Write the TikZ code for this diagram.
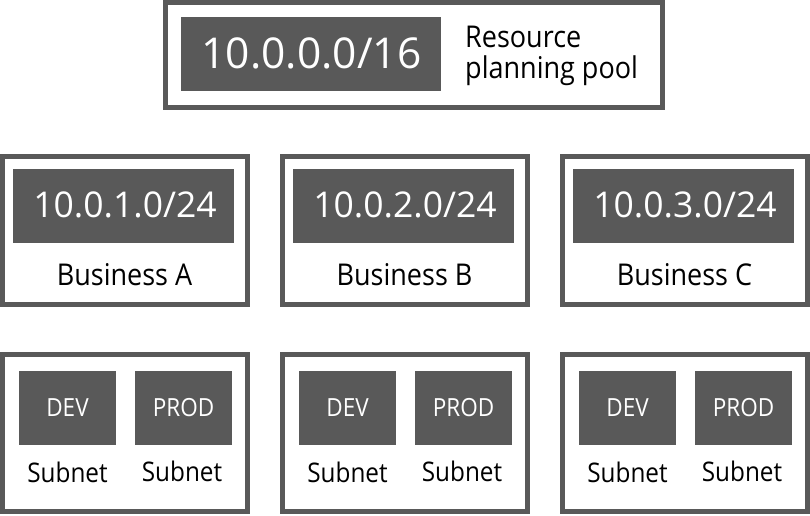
\documentclass[tikz,border=0pt]{standalone}
\usepackage{fontspec}
\setmainfont{Open Sans}[FakeStretch=0.9]
\newfontfamily\numfont{Open Sans}
\definecolor{dk}{HTML}{595959}
\tikzset{
  outerbox/.style={draw=dk, line width=5pt, fill=white, inner sep=0pt, outer sep=0pt},
  darkbox/.style={fill=dk, draw=none, inner sep=0pt, outer sep=0pt},
  bigip/.style={text=white, anchor=base, inner sep=0pt, font=\numfont\fontsize{42.5}{42.5}\selectfont},
  midip/.style={text=white, anchor=base, inner sep=0pt, font=\numfont\fontsize{35.5}{35.5}\selectfont},
  lbl/.style={text=black, anchor=base, inner sep=0pt, font=\fontsize{30}{30}\selectfont},
  envlbl/.style={text=white, anchor=base, inner sep=0pt, font=\fontsize{25}{25}\selectfont},
  sublbl/.style={text=black, anchor=base, inner sep=0pt, font=\fontsize{27}{27}\selectfont},
}
\begin{document}
\begin{tikzpicture}[x=1pt,y=-1pt]
\useasboundingbox (0,0) rectangle (810,515);
% top
\node[outerbox, minimum width=497.5pt, minimum height=105pt] (top) at (413.75,55) {};
\node[darkbox, minimum width=260pt, minimum height=74pt] (topip) at (311,54) {};
\node[bigip] (toptxt) at (311.5,68) {10.0.0.0/16};
\node[lbl, anchor=base west, font=\fontsize{30}{30}\selectfont] (res1) at (465,47.5) {Resource};
\node[lbl, anchor=base west, font=\fontsize{30}{30}\selectfont] (res2) at (465,78.5) {planning pool};
% middle and bottom
\foreach \cx/\n/\ip/\bus in {125/a/{10.0.1.0/24}/{Business A}, 405/b/{10.0.2.0/24}/{Business B}, 685/c/{10.0.3.0/24}/{Business C}}{
  \node[outerbox, minimum width=245.5pt, minimum height=148pt] (mid\n) at (\cx,230.5) {};
  \node[darkbox, minimum width=221pt, minimum height=74pt] (midip\n) at (\cx-1.5,206) {};
  \node[midip] (midtxt\n) at (\cx,217.3) {\ip};
  \node[lbl] (bus\n) at (\cx-0.5,285) {\bus};
  \node[outerbox, minimum width=245.5pt, minimum height=157pt] (bot\n) at (\cx,433) {};
  \node[darkbox, minimum width=97pt, minimum height=74pt] (dev\n) at (\cx-57.5,408) {};
  \node[darkbox, minimum width=97pt, minimum height=74pt] (prod\n) at (\cx+58.5,408) {};
  \node[envlbl] (devt\n) at (\cx-57.5,416) {DEV};
  \node[envlbl] (prodt\n) at (\cx+58.5,416) {PROD};
  \node[sublbl] (devs\n) at (\cx-57.5,482) {Subnet};
  \node[sublbl] (prods\n) at (\cx+57,481) {Subnet};
}
\end{tikzpicture}
\end{document}
